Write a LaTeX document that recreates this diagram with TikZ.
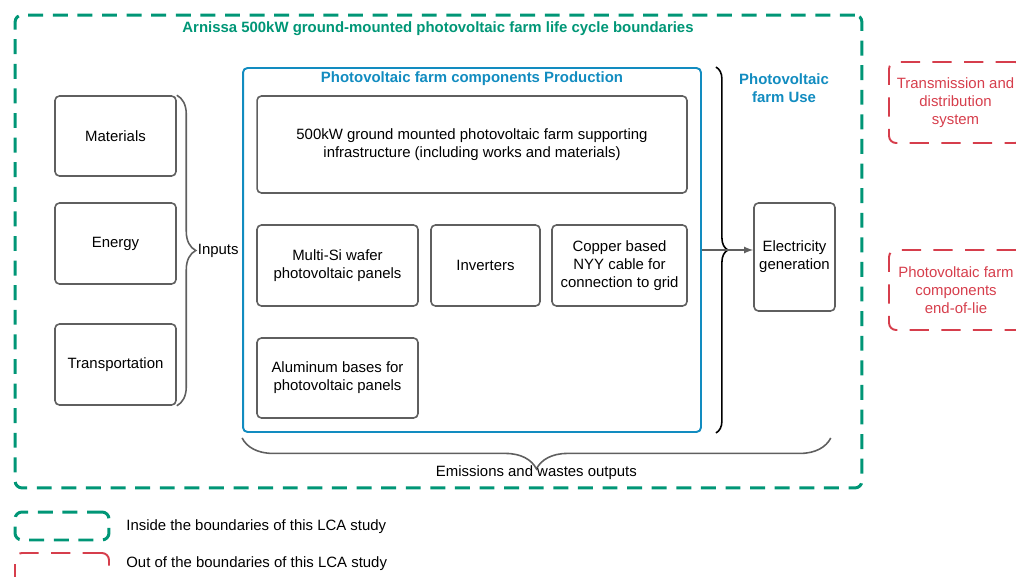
\documentclass[tikz,border=0pt]{standalone}
\usepackage{fontspec}
\setmainfont{Liberation Sans}
\usetikzlibrary{decorations.pathreplacing,positioning}

\definecolor{lcagreen}{RGB}{0,150,118}
\definecolor{pvblue}{RGB}{18,140,192}
\definecolor{outred}{RGB}{214,62,76}
\definecolor{boxgray}{RGB}{95,95,95}

\begin{document}
\begin{tikzpicture}[x=0.02cm,y=-0.02cm,
  font=\fontsize{8.5}{10.2}\selectfont,
  box/.style={draw=boxgray,line width=0.9pt,rounded corners=2.5pt,align=center,inner sep=2pt},
  bold/.style={font=\fontsize{8.5}{10.2}\selectfont\bfseries,align=center},
  inside/.style={draw=lcagreen,line width=1.7pt,dash pattern=on 8.5pt off 5.5pt,rounded corners=4pt},
  outside/.style={draw=outred,line width=1.1pt,dash pattern=on 11pt off 7pt,rounded corners=4pt,text=outred,align=center},
  curly/.style={decorate,decoration={brace,amplitude=#1},line width=0.9pt},
  curly/.default=0.3cm]

  \useasboundingbox (0,0) rectangle (1016,577);
  \clip (0,0) rectangle (1016,577);

  % life cycle boundaries
  \node[inside,minimum width=16.94cm,minimum height=9.46cm] (lca) at (438.5,251.5) {};
  \node[bold,text=lcagreen] (lcatitle) at (438,29) {Arnissa 500kW ground-mounted photovoltaic farm life cycle boundaries};

  % inputs
  \node[box,minimum width=2.42cm,minimum height=1.6cm] (mat) at (115.5,136) {Materials};
  \node[box,minimum width=2.42cm,minimum height=1.62cm] (ene) at (115.5,243.5) {Energy};
  \node[box,minimum width=2.42cm,minimum height=1.62cm] (tra) at (115.5,364.5) {Transportation};
  \draw[curly=0.38cm,draw=boxgray] (mat.north east) -- (tra.south east);
  \path (mat.north east) -- (tra.south east) node[midway,anchor=west,xshift=0.38cm,inner sep=1pt] (inputs) {Inputs};

  % production
  \node[draw=pvblue,line width=1.1pt,rounded corners=2.5pt,minimum width=9.16cm,minimum height=7.28cm] (prod) at (472,250) {};
  \node[bold,text=pvblue] (prodtitle) at (472,79) {Photovoltaic farm components Production};
  \node[box,minimum width=8.6cm,minimum height=1.94cm] (infra) at (472,144.5)
    {500kW ground mounted photovoltaic farm supporting\\infrastructure (including works and materials)};
  \node[box,minimum width=3.22cm,minimum height=1.62cm] (panels) at (337.5,265.5) {Multi-Si wafer\\photovoltaic panels};
  \node[box,minimum width=2.18cm,minimum height=1.62cm] (inv) at (485.5,265.5) {Inverters};
  \node[box,minimum width=2.7cm,minimum height=1.62cm] (cable) at (619.5,265.5) {Copper based\\NYY cable for\\connection to grid};
  \node[box,minimum width=3.22cm,minimum height=1.6cm] (bases) at (337.5,378) {Aluminum bases for\\photovoltaic panels};

  % use
  \node[bold,text=pvblue] (usetitle) at (784,88) {Photovoltaic\\farm Use};
  \node[box,minimum width=1.62cm,minimum height=2.16cm] (elec) at (794.5,257) {Electricity\\generation};
  \draw[curly=0.24cm,draw=black] ([xshift=0.28cm]prod.north east) -- ([xshift=0.28cm]prod.south east);
  \draw[-latex,draw=boxgray,line width=0.8pt] (prod.east) -- (prod.east -| elec.west);

  % outputs
  \coordinate (outl) at ([yshift=-0.1cm]prod.south west);
  \coordinate (outr) at ([xshift=-0.1cm]outl -| elec.east);
  \draw[curly=0.62cm,draw=boxgray] (outr) -- (outl);
  \path (outl) -- (outr) node[midway,yshift=-0.7cm] (emis) {Emissions and wastes outputs};

  % out of the boundaries
  \node[outside,minimum width=2.66cm,minimum height=1.62cm] (trans) at (955.5,102.5) {Transmission and\\distribution\\system};
  \node[outside,minimum width=2.68cm,minimum height=1.6cm] (eol) at (956,290) {Photovoltaic farm\\components\\end-of-lie};

  % legend
  \node[inside,minimum width=1.88cm,minimum height=0.56cm] (legin) at (62,526) {};
  \node[anchor=west,inner sep=0pt] (legintext) at (126,527) {Inside the boundaries of this LCA study};
  \node[outside,minimum width=1.88cm,minimum height=0.94cm] (legout) at (62,576.5) {};
  \node[anchor=west,inner sep=0pt] (legouttext) at (126,564) {Out of the boundaries of this LCA study};
\end{tikzpicture}
\end{document}
